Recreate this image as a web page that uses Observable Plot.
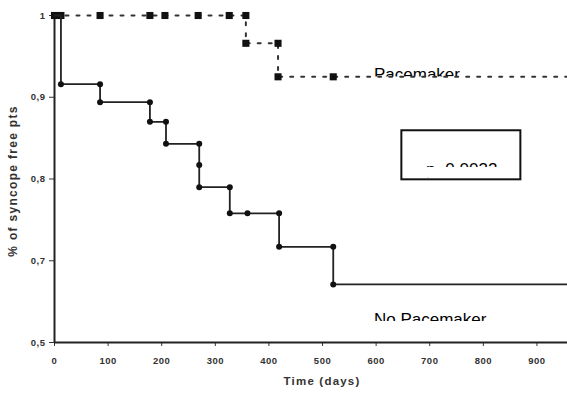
<!DOCTYPE html>
<html>
<head>
<meta charset="utf-8">
<script src="https://cdn.jsdelivr.net/npm/d3@7"></script>
<script src="https://cdn.jsdelivr.net/npm/@observablehq/plot@0.6"></script>
<style>
  html, body { margin: 0; padding: 0; background: #fff; }
</style>
</head>
<body>
<div id="chart"></div>
<script>
// ---- data ----
const xTicks = [0, 100, 200, 300, 400, 500, 600, 700, 800, 900];
const yTicks = [1, 0.9, 0.8, 0.7, 0.6];
const yTickLabels = ["1", "0,9", "0,8", "0,7", "0,5"];

// No Pacemaker step curve (vertices, step-after)
const npTime = [0, 12, 85, 178, 208, 270, 270, 327, 419, 520, 957];
const npSurv = [1, 0.916, 0.894, 0.870, 0.843, 0.817, 0.790, 0.758, 0.717, 0.671, 0.671];
// No Pacemaker markers
const npMarkTime = [12, 85, 85, 178, 178, 208, 208, 270, 270, 270, 327, 327, 360, 419, 419, 520, 520];
const npMarkSurv = [0.916, 0.916, 0.894, 0.894, 0.870, 0.870, 0.843, 0.843, 0.817, 0.790, 0.790, 0.758, 0.758, 0.758, 0.717, 0.717, 0.671];

// Pacemaker step curve
const pmTime = [0, 357, 417, 957];
const pmSurv = [1, 0.966, 0.925, 0.925];
// Pacemaker markers
const pmMarkTime = [0, 12, 85, 178, 206, 268, 326, 357, 357, 417, 417, 520];
const pmMarkSurv = [1, 1, 1, 1, 1, 1, 1, 1, 0.966, 0.966, 0.925, 0.925];

// annotations (text, x, baseline y, clip y)
const labelText = ["Pacemaker", "No Pacemaker", "p=0.0032"];
const labelX = [596, 596, 693];
const labelY = [0.9217, 0.6208, 0.8055];
const labelClipY = [0.9248, 0.6257, 0.8141];
const labelClipBottom = [0.900, 0.603, 0.8008];
const labelClipX1 = [588, 588, 680];
const labelClipX2 = [775, 825, 845];
// p-value box
const boxX = [648, 870];
const boxY = [0.799, 0.859];

const xTitle = "Time (days)";
const yTitle = "% of syncope free pts";

// ---- build tables ----
const np = npTime.map((t, i) => ({t, s: npSurv[i]}));
const npMarks = npMarkTime.map((t, i) => ({t, s: npMarkSurv[i]}));
const pm = pmTime.map((t, i) => ({t, s: pmSurv[i]}));
const pmMarks = pmMarkTime.map((t, i) => ({t, s: pmMarkSurv[i]}));
const labels = labelText.map((text, i) => ({text, x: labelX[i], y: labelY[i]}));
const clips = labelText.map((_, i) => ({x1: labelClipX1[i], x2: labelClipX2[i], y1: labelClipBottom[i], y2: labelClipY[i]}));
const box = [{x1: boxX[0], x2: boxX[1], y1: boxY[0], y2: boxY[1]}];

const font = "'Liberation Sans', Arial, Helvetica, sans-serif";

const plot = Plot.plot({
  width: 567,
  height: 394,
  marginLeft: 54,
  marginRight: 0,
  marginTop: 15,
  marginBottom: 52,
  style: {fontFamily: font, fontSize: "9.5px", fontWeight: "bold", color: "#333", background: "#fff", letterSpacing: "0.5px"},
  x: {domain: [0, 957], ticks: xTicks, tickSize: 4, tickPadding: 11, label: null, tickFormat: d => String(d)},
  y: {domain: [0.6, 1], ticks: yTicks, tickSize: 5, tickPadding: 4, label: null,
      tickFormat: d => yTickLabels[yTicks.indexOf(d)]},
  marks: [
    // annotation texts, partially hidden below
    Plot.text(labels, {x: "x", y: "y", text: "text", textAnchor: "start", lineAnchor: "bottom",
      fontSize: 17, fontWeight: "normal", fill: "#000", fontFamily: font}),
    Plot.rect(clips, {x1: "x1", x2: "x2", y1: "y1", y2: "y2", fill: "#fff"}),
    Plot.rect(box, {x1: "x1", x2: "x2", y1: "y1", y2: "y2", fill: "none", stroke: "#111", strokeWidth: 2}),
    // axes lines
    Plot.ruleX([0], {y1: 0.6, y2: 1, stroke: "#222", strokeWidth: 2}),
    Plot.ruleY([0.6], {stroke: "#222", strokeWidth: 2}),
    // Pacemaker
    Plot.line(pm, {x: "t", y: "s", curve: "step-after", stroke: "#333", strokeWidth: 2, strokeDasharray: "3,8"}),
    Plot.dot(pmMarks, {x: "t", y: "s", symbol: "square", r: 4, fill: "#111", stroke: "none"}),
    // No Pacemaker
    Plot.line(np, {x: "t", y: "s", curve: "step-after", stroke: "#222", strokeWidth: 1.8}),
    Plot.dot(npMarks, {x: "t", y: "s", r: 3, fill: "#111", stroke: "none"}),
    // axis titles
    Plot.text([xTitle], {frameAnchor: "bottom", textAnchor: "middle", dx: 11, dy: 42, fontSize: 11.5, fontWeight: "bold",
      fill: "#333", fontFamily: font}),
    Plot.text([yTitle], {frameAnchor: "left", textAnchor: "middle", rotate: -90, dx: -41, dy: 2, fontSize: 12, fontWeight: "bold",
      fill: "#333", fontFamily: font})
  ]
});
document.getElementById("chart").appendChild(plot);

// per-text letter spacing tweaks
d3.select(plot).selectAll("text").each(function() {
  const t = this.textContent;
  if (labelText.includes(t)) this.style.letterSpacing = "0px";
  else if (t === xTitle) this.style.letterSpacing = "1.2px";
  else if (t === yTitle) this.style.letterSpacing = "1.3px";
});
</script>
</body>
</html>
